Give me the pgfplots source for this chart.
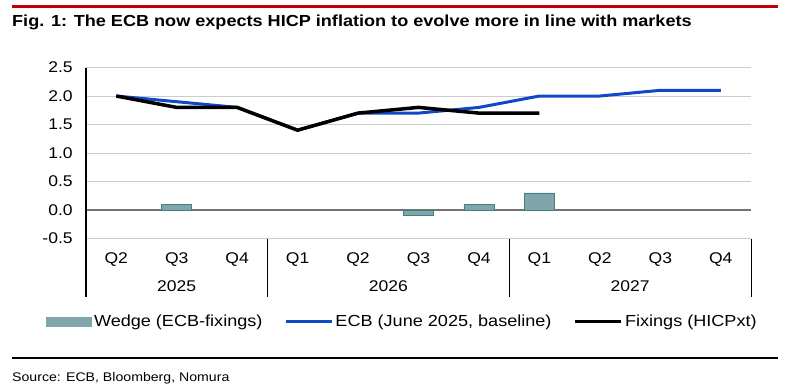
\documentclass[border=0pt]{standalone}
\usepackage{fontspec}
\setmainfont[FakeStretch=1.13]{Liberation Sans}
\usepackage{pgfplots}
\pgfplotsset{compat=1.18}
\definecolor{wedgefill}{RGB}{127,166,170}
\definecolor{wedgeedge}{RGB}{70,125,130}
\definecolor{ecbblue}{RGB}{16,72,200}
\definecolor{nomred}{RGB}{192,0,0}
\begin{document}
\begin{tikzpicture}
\path[use as bounding box] (0pt,0pt) rectangle (787pt,-384pt);
\draw[nomred, line width=2.2pt] (12pt,-6.5pt) -- (778pt,-6.5pt);
\node[anchor=base west, inner sep=0pt, font=\bfseries\fontsize{16}{18}\selectfont] at (12pt,-26pt) {Fig. 1: The ECB now expects HICP inflation to evolve more in line with markets};
\begin{axis}[
  at={(86pt,-238.5pt)}, anchor=south west,
  width=665pt, height=171pt, scale only axis,
  xmin=-0.5, xmax=10.5, ymin=-0.5, ymax=2.5,
  axis line style={draw=none},
  clip=false,
  major tick length=0pt,
  ytick={-0.5,0,0.5,1,1.5,2,2.5},
  yticklabels={-0.5,0.0,0.5,1.0,1.5,2.0,2.5},
  yticklabel style={font=\fontsize{15.5}{18}\selectfont, xshift=-9.8pt},
  xtick={0,1,2,3,4,5,6,7,8,9,10},
  xticklabels={Q2,Q3,Q4,Q1,Q2,Q3,Q4,Q1,Q2,Q3,Q4},
  xticklabel style={font=\fontsize{15.5}{18}\selectfont, yshift=-10.2pt},
  ymajorgrids,
  grid style={black!20, line width=0.9pt},
  legend style={at={(axis description cs:0.476,-0.485)}, anchor=center, draw=none, fill=none,
    legend columns=3, font=\fontsize{16}{18}\selectfont,
    /tikz/every even column/.append style={column sep=20pt}},
]
\draw[black!55, line width=1.2pt] (axis cs:-0.5,0) -- (axis cs:10.5,0);
\addplot[ybar, bar width=30pt, fill=wedgefill, draw=wedgeedge, line width=0.6pt,
  legend image code/.code={\fill[wedgefill] (0pt,-4.5pt) rectangle (45pt,4.5pt);}]
  coordinates {(1,0.1) (5,-0.1) (6,0.1) (7,0.3)};
\addlegendentry{Wedge (ECB-fixings)}
\addplot[draw=ecbblue, line width=3pt, line join=round,
  legend image code/.code={\draw[ecbblue, line width=3pt] (0pt,0pt) -- (46pt,0pt);}]
  coordinates {(0,2.0) (1,1.9) (2,1.8) (3,1.4) (4,1.7) (5,1.7) (6,1.8) (7,2.0) (8,2.0) (9,2.1) (10,2.1)};
\addlegendentry{ECB (June 2025, baseline)}
\addplot[draw=black, line width=3.5pt, line join=round,
  legend image code/.code={\draw[black, line width=3.5pt] (0pt,0pt) -- (46pt,0pt);}]
  coordinates {(0,2.0) (1,1.8) (2,1.8) (3,1.4) (4,1.7) (5,1.8) (6,1.7) (7,1.7)};
\addlegendentry{Fixings (HICPxt)}
\draw[black, line width=2pt] (axis cs:-0.5,2.5) -- (axis cs:-0.5,-1.53);
\draw[black, line width=1pt] (axis cs:2.5,-0.5) -- (axis cs:2.5,-1.53);
\draw[black, line width=1pt] (axis cs:6.5,-0.5) -- (axis cs:6.5,-1.53);
\draw[black, line width=1pt] (axis cs:10.5,-0.5) -- (axis cs:10.5,-1.53);
\node[font=\fontsize{15.5}{18}\selectfont] at (axis cs:1,-1.33) {2025};
\node[font=\fontsize{15.5}{18}\selectfont] at (axis cs:4.5,-1.33) {2026};
\node[font=\fontsize{15.5}{18}\selectfont] at (axis cs:8.5,-1.33) {2027};
\end{axis}
\draw[black, line width=1.8pt] (12pt,-358.3pt) -- (778pt,-358.3pt);
\node[anchor=base west, inner sep=0pt, font=\fontsize{12.5}{14}\selectfont] at (12pt,-381pt) {Source: ECB, Bloomberg, Nomura};
\end{tikzpicture}
\end{document}
